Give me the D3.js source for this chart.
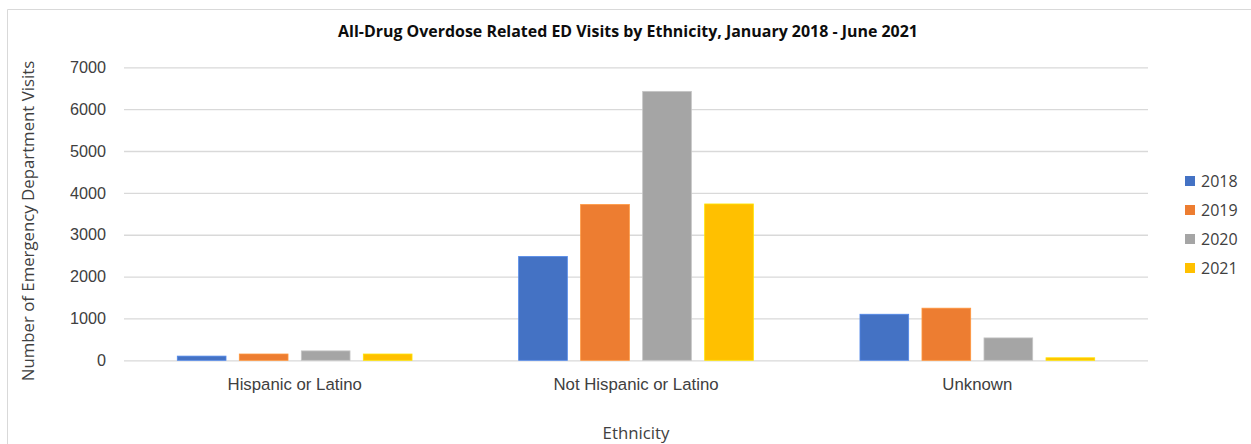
<!DOCTYPE html>
<html>
<head>
<meta charset="utf-8">
<script src="https://cdn.jsdelivr.net/npm/d3@7"></script>
<style>
  html, body { margin: 0; padding: 0; background: #fff; }
  svg { display: block; font-family: "Open Sans", "Noto Sans", sans-serif; }
</style>
</head>
<body>
<svg id="chart" width="1251" height="444"></svg>
<script>
// Ethnicity groups on the x axis
const categories = ["Hispanic or Latino", "Not Hispanic or Latino", "Unknown"];
// One series per year (ED visits per ethnicity group)
const years = ["2018", "2019", "2020", "2021"];
const visits2018 = [100, 2480, 1100];
const visits2019 = [150, 3720, 1245];
const visits2020 = [225, 6425, 535];
const visits2021 = [150, 3735, 60];
const yTicks = [0, 1000, 2000, 3000, 4000, 5000, 6000, 7000];
const colors = ["#4472C4", "#ED7D31", "#A5A5A5", "#FFC000"];

const seriesValues = [visits2018, visits2019, visits2020, visits2021];
const rows = [];
categories.forEach((c, ci) => {
  years.forEach((yr, si) => rows.push({ cat: c, year: yr, value: seriesValues[si][ci], color: colors[si] }));
});

const svg = d3.select("#chart");
const plot = { left: 124, right: 1148, top: 67.3, bottom: 360.3 };
const labelSize = "16.8px";

// chart area frame (left and top edges visible)
svg.append("path")
  .attr("d", "M7.5,444 L7.5,9.5 L1251,9.5")
  .attr("fill", "none").attr("stroke", "#d9d9d9").attr("stroke-width", 1);

const x0 = d3.scaleBand().domain(categories).range([plot.left, plot.right]).padding(0);
const groupInset = 53.3;
const x1 = d3.scaleBand().domain(years)
  .range([groupInset, x0.bandwidth() - groupInset])
  .paddingInner(0.2145).paddingOuter(0);
const y = d3.scaleLinear().domain([0, 7000]).range([plot.bottom, plot.top]);

// horizontal gridlines + tick labels
const yAxis = d3.axisLeft(y).tickValues(yTicks).tickSize(-(plot.right - plot.left)).tickPadding(18).tickFormat(d3.format("d"));
const gy = svg.append("g").attr("transform", `translate(${plot.left},0)`).call(yAxis);
gy.select(".domain").remove();
gy.selectAll(".tick line").attr("stroke", "#d9d9d9").attr("stroke-width", 1.3);
gy.selectAll(".tick text").attr("fill", "#404040").style("font-size", "16.2px");

// bars
svg.append("g").selectAll("rect").data(rows).join("rect")
  .attr("x", d => x0(d.cat) + x1(d.year))
  .attr("y", d => y(d.value))
  .attr("width", x1.bandwidth())
  .attr("height", d => y(0) - y(d.value))
  .attr("fill", d => d.color)
  .attr("stroke", d => d3.color(d.color).brighter(0.5))
  .attr("stroke-width", 0.8);

// category labels
const xAxis = d3.axisBottom(x0).tickSize(0).tickPadding(18);
const gx = svg.append("g").attr("transform", `translate(0,${plot.bottom})`).call(xAxis);
gx.select(".domain").remove();
gx.selectAll(".tick text").attr("fill", "#404040").style("font-size", labelSize);

// title
const title = svg.append("text")
  .attr("x", 628).attr("y", 31).attr("text-anchor", "middle").attr("dominant-baseline", "central")
  .attr("fill", "#0d0d0d").style("font-weight", "bold").style("font-size", "14px")
  .text("All-Drug Overdose Related ED Visits by Ethnicity, January 2018 - June 2021");
const tw = title.node().getComputedTextLength();
title.style("font-size", (14 * 580 / tw).toFixed(2) + "px");

// axis titles
svg.append("text")
  .attr("x", 636).attr("y", 432).attr("text-anchor", "middle").attr("dominant-baseline", "central")
  .attr("fill", "#404040").style("font-size", labelSize).text("Ethnicity");
svg.append("text")
  .attr("transform", "translate(27,221) rotate(-90)")
  .attr("text-anchor", "middle").attr("dominant-baseline", "central")
  .attr("fill", "#404040").style("font-size", labelSize).text("Number of Emergency Department Visits");

// legend
const legend = svg.append("g").selectAll("g").data(years).join("g")
  .attr("transform", (d, i) => `translate(1185,${181 + i * 29})`);
legend.append("rect").attr("x", 0).attr("y", -5).attr("width", 10).attr("height", 10)
  .attr("fill", (d, i) => colors[i]);
legend.append("text").attr("x", 16).attr("y", 0).attr("dominant-baseline", "central")
  .attr("fill", "#404040").style("font-size", "16px").text(d => d);
</script>
</body>
</html>
